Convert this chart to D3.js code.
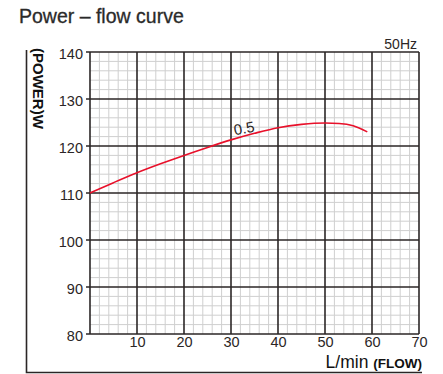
<!DOCTYPE html>
<html>
<head>
<meta charset="utf-8">
<script src="https://cdn.jsdelivr.net/npm/d3@7"></script>
<style>
  html, body { margin: 0; padding: 0; background: #fff; }
  svg { display: block; font-family: "Liberation Sans", Arial, sans-serif; }
</style>
</head>
<body>
<svg id="chart" width="443" height="374"></svg>
<script>
// Flow (L/min) vs. power (W) for the 0.5 model at 50 Hz
const flow  = [0, 5, 10, 15, 20, 25, 30, 35, 40, 45, 50, 53, 56, 59];
const power = [110, 112.2, 114.3, 116.2, 118.0, 119.7, 121.3, 122.7, 123.9, 124.6, 124.9, 124.8, 124.3, 123.0];
const xTicks = [10, 20, 30, 40, 50, 60, 70];
const yTicks = [80, 90, 100, 110, 120, 130, 140];
const curveLabel = "0.5";

const svg = d3.select("#chart");
const ink = "#2b2626";

const x = d3.scaleLinear().domain([0, 70]).range([90, 419]);
const y = d3.scaleLinear().domain([80, 140]).range([334, 52]);

// Title
svg.append("text")
  .attr("x", 19).attr("y", 23)
  .attr("font-size", 19.5)
  .attr("font-weight", 500)
  .attr("fill", "#2a2a2a")
  .attr("stroke", "#2a2a2a").attr("stroke-width", 0.3)
  .text("Power – flow curve");

// L-shaped outer frame
svg.append("path")
  .attr("d", `M26.5,50 V372.5 H422`)
  .attr("fill", "none")
  .attr("stroke", ink)
  .attr("stroke-width", 1.6);

// Minor grid every 2 units
const minorX = d3.range(2, 70, 2).filter(v => v % 10 !== 0);
const minorY = d3.range(82, 140, 2).filter(v => v % 10 !== 0);
const grid = svg.append("g");
grid.selectAll("line.mx").data(minorX).join("line")
  .attr("x1", d => x(d)).attr("x2", d => x(d))
  .attr("y1", y(80)).attr("y2", y(140))
  .attr("stroke", "#cfcfcf").attr("stroke-width", 1);
grid.selectAll("line.my").data(minorY).join("line")
  .attr("x1", x(0)).attr("x2", x(70))
  .attr("y1", d => y(d)).attr("y2", d => y(d))
  .attr("stroke", "#cfcfcf").attr("stroke-width", 1);

// Major grid
grid.selectAll("line.Mx").data([0].concat(xTicks)).join("line")
  .attr("x1", d => x(d)).attr("x2", d => x(d))
  .attr("y1", y(80)).attr("y2", y(140))
  .attr("stroke", ink).attr("stroke-width", 1.6);
grid.selectAll("line.My").data(yTicks).join("line")
  .attr("x1", x(0) - 4).attr("x2", x(70))
  .attr("y1", d => y(d)).attr("y2", d => y(d))
  .attr("stroke", ink).attr("stroke-width", 1.6);

// Y axis labels
const yAxis = d3.axisLeft(y).tickValues(yTicks).tickSize(0).tickPadding(4);
const gy = svg.append("g").attr("transform", `translate(${x(0) - 3},0)`).call(yAxis);
gy.select(".domain").remove();
gy.selectAll("text")
  .attr("font-family", "'Liberation Sans', Arial, sans-serif")
  .attr("font-size", 14.5).attr("fill", ink).attr("dy", "0.45em");

// X axis labels
const xAxis = d3.axisBottom(x).tickValues(xTicks).tickSize(0).tickPadding(3);
const gx = svg.append("g").attr("transform", `translate(0,${y(80)})`).call(xAxis);
gx.select(".domain").remove();
gx.selectAll("text")
  .attr("font-family", "'Liberation Sans', Arial, sans-serif")
  .attr("font-size", 14.5).attr("fill", ink);

// Frequency note
svg.append("text")
  .attr("x", 417).attr("y", 48.5)
  .attr("text-anchor", "end")
  .attr("font-size", 14).attr("fill", ink)
  .text("50Hz");

// Axis titles
const xt = svg.append("text")
  .attr("x", 422).attr("y", 368)
  .attr("text-anchor", "end")
  .attr("fill", "#111");
xt.append("tspan").attr("font-size", 17.5).text("L/min ");
xt.append("tspan").attr("font-size", 13.5).attr("font-weight", "bold").text("(FLOW)");

svg.append("text")
  .attr("transform", "translate(33,48) rotate(90)")
  .attr("font-size", 15).attr("font-weight", "bold").attr("fill", "#111")
  .text("(POWER)W");

// Power curve
const line = d3.line()
  .x((d, i) => x(flow[i]))
  .y(d => y(d))
  .curve(d3.curveMonotoneX);
svg.append("path")
  .datum(power)
  .attr("d", line)
  .attr("fill", "none")
  .attr("stroke", "#e8102a")
  .attr("stroke-width", 1.6);

// Curve label
svg.append("text")
  .attr("transform", `translate(${x(30.8)},${y(122.3)}) rotate(-10)`)
  .attr("font-size", 15).attr("fill", ink)
  .text(curveLabel);
</script>
</body>
</html>
